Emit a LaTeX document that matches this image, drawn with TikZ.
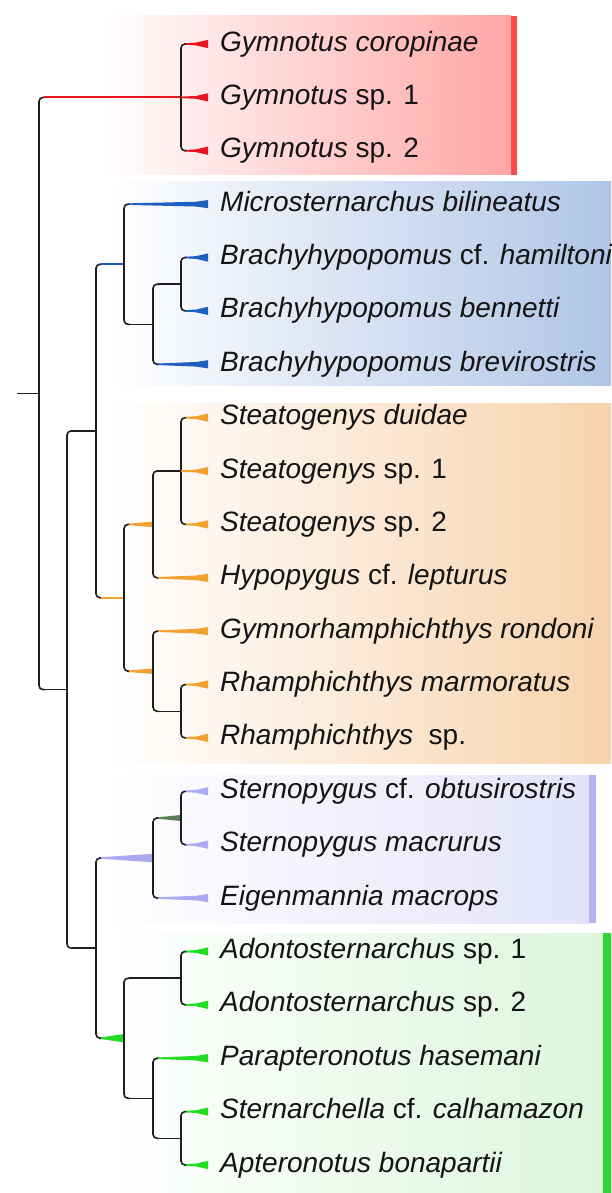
\documentclass[tikz,border=0pt]{standalone}
\usepackage{fontspec}
\setmainfont{Liberation Sans}
\usetikzlibrary{calc}
\definecolor{treec}{HTML}{1E1E1E}
\definecolor{txt}{HTML}{141414}
\definecolor{redc}{HTML}{E8141E}
\definecolor{redbar}{HTML}{FF4A4A}
\definecolor{redbg}{HTML}{FFA6A6}
\definecolor{bluec}{HTML}{1F5FC0}
\definecolor{bluebg}{HTML}{B0C5E6}
\definecolor{orc}{HTML}{F2A030}
\definecolor{orbg}{HTML}{F7D3AD}
\definecolor{purc}{HTML}{AAAAF2}
\definecolor{purbg}{HTML}{E3E3FA}
\definecolor{purbar}{HTML}{B3B3F0}
\definecolor{grgc}{HTML}{5E7E5E}
\definecolor{grc}{HTML}{22DD22}
\definecolor{grbg}{HTML}{DCF6DC}
\definecolor{grbar}{HTML}{2FD82F}
% elbow of a clade: node, top child, bottom child
\newcommand\cladeel[3]{\draw[tree] let \p1=(#1),\p2=(#2),\p3=(#3) in (\x1+6pt,\y2) -- (\x1,\y2) -- (\x1,\y3) -- (\x1+6pt,\y3);}
% black branch parent -> child
\newcommand\blkbr[2]{\draw[treeline] let \p1=(#1),\p2=(#2) in (\x1+5pt,\y2) -- (\x2,\y2);}
% coloured line branch
\newcommand\colbr[3]{\draw[#3, line width=1.9pt] let \p1=(#1),\p2=(#2) in (\x1+5pt,\y2) -- (\x2,\y2);}
% coloured wedge branch: parent, child, colour, end half height
\newcommand\colwedge[4]{\fill[#3] let \p1=(#1),\p2=(#2) in (\x1+5pt,\y2-0.8pt) -- (\x2,\y2-#4) -- (\x2,\y2+#4) -- (\x1+5pt,\y2+0.8pt) -- cycle;}
% leaf wedge: parent, tip, colour, middle half height, start offset
\newcommand\tipwedge[5]{\fill[#3] let \p1=(#1),\p2=(#2) in (\x1+#5,\y2-0.8pt) -- (\x2-12pt,\y2-#4) -- (\x2,\y2-4.1pt) -- (\x2,\y2+4.1pt) -- (\x2-12pt,\y2+#4) -- (\x1+#5,\y2+0.8pt) -- cycle;}
\begin{document}
\begin{tikzpicture}[x=1pt,y=-1pt,
  tree/.style={draw=treec, line width=1.6pt, rounded corners=4pt},
  treeline/.style={draw=treec, line width=1.6pt},
  lab/.style={anchor=west, inner sep=0pt, text=txt, font=\fontsize{28}{33}\selectfont, text height=20pt, text depth=5.9pt},
  panel/.style={left color=white}]
\useasboundingbox (0,0) rectangle (611,1193);
\fill[white] (0,0) rectangle (611,1193);
% panels
\shade[panel, right color=redbg] (100,16) rectangle (511,175);
\fill[redbar] (511,16) rectangle (517,175);
\shade[panel, right color=bluebg] (112,182) rectangle (611,385);
\shade[panel, right color=orbg] (110,403) rectangle (611,763);
\shade[panel, right color=purbg] (104,775) rectangle (589,923);
\fill[purbar] (589,775) rectangle (596,923);
\shade[panel, right color=grbg] (100,933) rectangle (603,1193);
\fill[grbar] (603,933) rectangle (611,1193);
% tips (label rows)
\foreach \i in {1,...,22}{\coordinate (t\i) at (208,{44+53.38*(\i-1)});}
% internal nodes
\coordinate (Gym) at (181,97.4);
\coordinate (B3) at (181,284.2);
\coordinate (B2) at (153,324.3);
\coordinate (B) at (124,264.2);
\coordinate (O2) at (181,471.0);
\coordinate (O1) at (153,524.4);
\coordinate (O4) at (181,711.3);
\coordinate (O3) at (153,671.2);
\coordinate (O) at (124,597.8);
\coordinate (Y) at (96,431.0);
\coordinate (P1) at (181,818.0);
\coordinate (P) at (153,858.0);
\coordinate (G1) at (181,978.2);
\coordinate (G3) at (181,1138.3);
\coordinate (G2) at (153,1098.3);
\coordinate (G) at (124,1038.2);
\coordinate (Z) at (96,948.1);
\coordinate (X) at (67,689.6);
\coordinate (R) at (39,393.5);
\coordinate (root) at (17,393.5);
% root
\draw[treeline] (root) -- (R);
\cladeel{R}{Gym}{X}
\colbr{R}{Gym}{redc}
\blkbr{R}{X}
% Gymnotus
\cladeel{Gym}{t1}{t3}
\tipwedge{Gym}{t1}{redc}{1.4pt}{5pt}
\tipwedge{Gym}{t2}{redc}{1.4pt}{0pt}
\tipwedge{Gym}{t3}{redc}{1.4pt}{5pt}
% X
\cladeel{X}{Y}{Z}
\blkbr{X}{Y}
\blkbr{X}{Z}
% Y
\cladeel{Y}{B}{O}
\colbr{Y}{B}{bluec}
\colbr{Y}{O}{orc}
% blue clade
\cladeel{B}{t4}{B2}
\tipwedge{B}{t4}{bluec}{2.4pt}{5pt}
\blkbr{B}{B2}
\cladeel{B2}{B3}{t7}
\blkbr{B2}{B3}
\tipwedge{B2}{t7}{bluec}{2.3pt}{5pt}
\cladeel{B3}{t5}{t6}
\tipwedge{B3}{t5}{bluec}{1.4pt}{5pt}
\tipwedge{B3}{t6}{bluec}{1.4pt}{5pt}
% orange clade
\cladeel{O}{O1}{O3}
\colwedge{O}{O1}{orc}{2.8pt}
\colwedge{O}{O3}{orc}{2.8pt}
\cladeel{O1}{O2}{t11}
\blkbr{O1}{O2}
\tipwedge{O1}{t11}{orc}{2.3pt}{5pt}
\cladeel{O2}{t8}{t10}
\tipwedge{O2}{t8}{orc}{1.4pt}{5pt}
\tipwedge{O2}{t9}{orc}{1.4pt}{0pt}
\tipwedge{O2}{t10}{orc}{1.4pt}{5pt}
\cladeel{O3}{t12}{O4}
\tipwedge{O3}{t12}{orc}{2.3pt}{5pt}
\blkbr{O3}{O4}
\cladeel{O4}{t13}{t14}
\tipwedge{O4}{t13}{orc}{1.4pt}{5pt}
\tipwedge{O4}{t14}{orc}{1.4pt}{5pt}
% Z
\cladeel{Z}{P}{G}
\colwedge{Z}{P}{purc}{4.2pt}
\colwedge{Z}{G}{grc}{4.2pt}
% purple clade
\cladeel{P}{P1}{t17}
\colwedge{P}{P1}{grgc}{3pt}
\tipwedge{P}{t17}{purc}{2.3pt}{5pt}
\cladeel{P1}{t15}{t16}
\tipwedge{P1}{t15}{purc}{1.4pt}{5pt}
\tipwedge{P1}{t16}{purc}{1.4pt}{5pt}
% green clade
\cladeel{G}{G1}{G2}
\blkbr{G}{G1}
\blkbr{G}{G2}
\cladeel{G1}{t18}{t19}
\tipwedge{G1}{t18}{grc}{1.4pt}{5pt}
\tipwedge{G1}{t19}{grc}{1.4pt}{5pt}
\cladeel{G2}{t20}{G3}
\tipwedge{G2}{t20}{grc}{2.3pt}{5pt}
\blkbr{G2}{G3}
\cladeel{G3}{t21}{t22}
\tipwedge{G3}{t21}{grc}{1.4pt}{5pt}
\tipwedge{G3}{t22}{grc}{1.4pt}{5pt}
% labels
\node[lab] (l1) at ($(t1)+(12,0)$) {\textit{Gymnotus coropinae}};
\node[lab] (l2) at ($(t2)+(12,0)$) {\textit{Gymnotus} sp. 1};
\node[lab] (l3) at ($(t3)+(12,0)$) {\textit{Gymnotus} sp. 2};
\node[lab] (l4) at ($(t4)+(12,0)$) {\textit{Microsternarchus bilineatus}};
\node[lab] (l5) at ($(t5)+(12,0)$) {\textit{Brachyhypopomus} cf. \textit{hamiltoni}};
\node[lab] (l6) at ($(t6)+(12,0)$) {\textit{Brachyhypopomus bennetti}};
\node[lab] (l7) at ($(t7)+(12,0)$) {\textit{Brachyhypopomus brevirostris}};
\node[lab] (l8) at ($(t8)+(12,0)$) {\textit{Steatogenys duidae}};
\node[lab] (l9) at ($(t9)+(12,0)$) {\textit{Steatogenys} sp. 1};
\node[lab] (l10) at ($(t10)+(12,0)$) {\textit{Steatogenys} sp. 2};
\node[lab] (l11) at ($(t11)+(12,0)$) {\textit{Hypopygus} cf. \textit{lepturus}};
\node[lab] (l12) at ($(t12)+(12,0)$) {\textit{Gymnorhamphichthys rondoni}};
\node[lab] (l13) at ($(t13)+(12,0)$) {\textit{Rhamphichthys marmoratus}};
\node[lab] (l14) at ($(t14)+(12,0)$) {\textit{Rhamphichthys}\ \ sp.};
\node[lab] (l15) at ($(t15)+(12,0)$) {\textit{Sternopygus} cf. \textit{obtusirostris}};
\node[lab] (l16) at ($(t16)+(12,0)$) {\textit{Sternopygus macrurus}};
\node[lab] (l17) at ($(t17)+(12,0)$) {\textit{Eigenmannia macrops}};
\node[lab] (l18) at ($(t18)+(12,0)$) {\textit{Adontosternarchus} sp. 1};
\node[lab] (l19) at ($(t19)+(12,0)$) {\textit{Adontosternarchus} sp. 2};
\node[lab] (l20) at ($(t20)+(12,0)$) {\textit{Parapteronotus hasemani}};
\node[lab] (l21) at ($(t21)+(12,0)$) {\textit{Sternarchella} cf. \textit{calhamazon}};
\node[lab] (l22) at ($(t22)+(12,0)$) {\textit{Apteronotus bonapartii}};
\end{tikzpicture}
\end{document}
